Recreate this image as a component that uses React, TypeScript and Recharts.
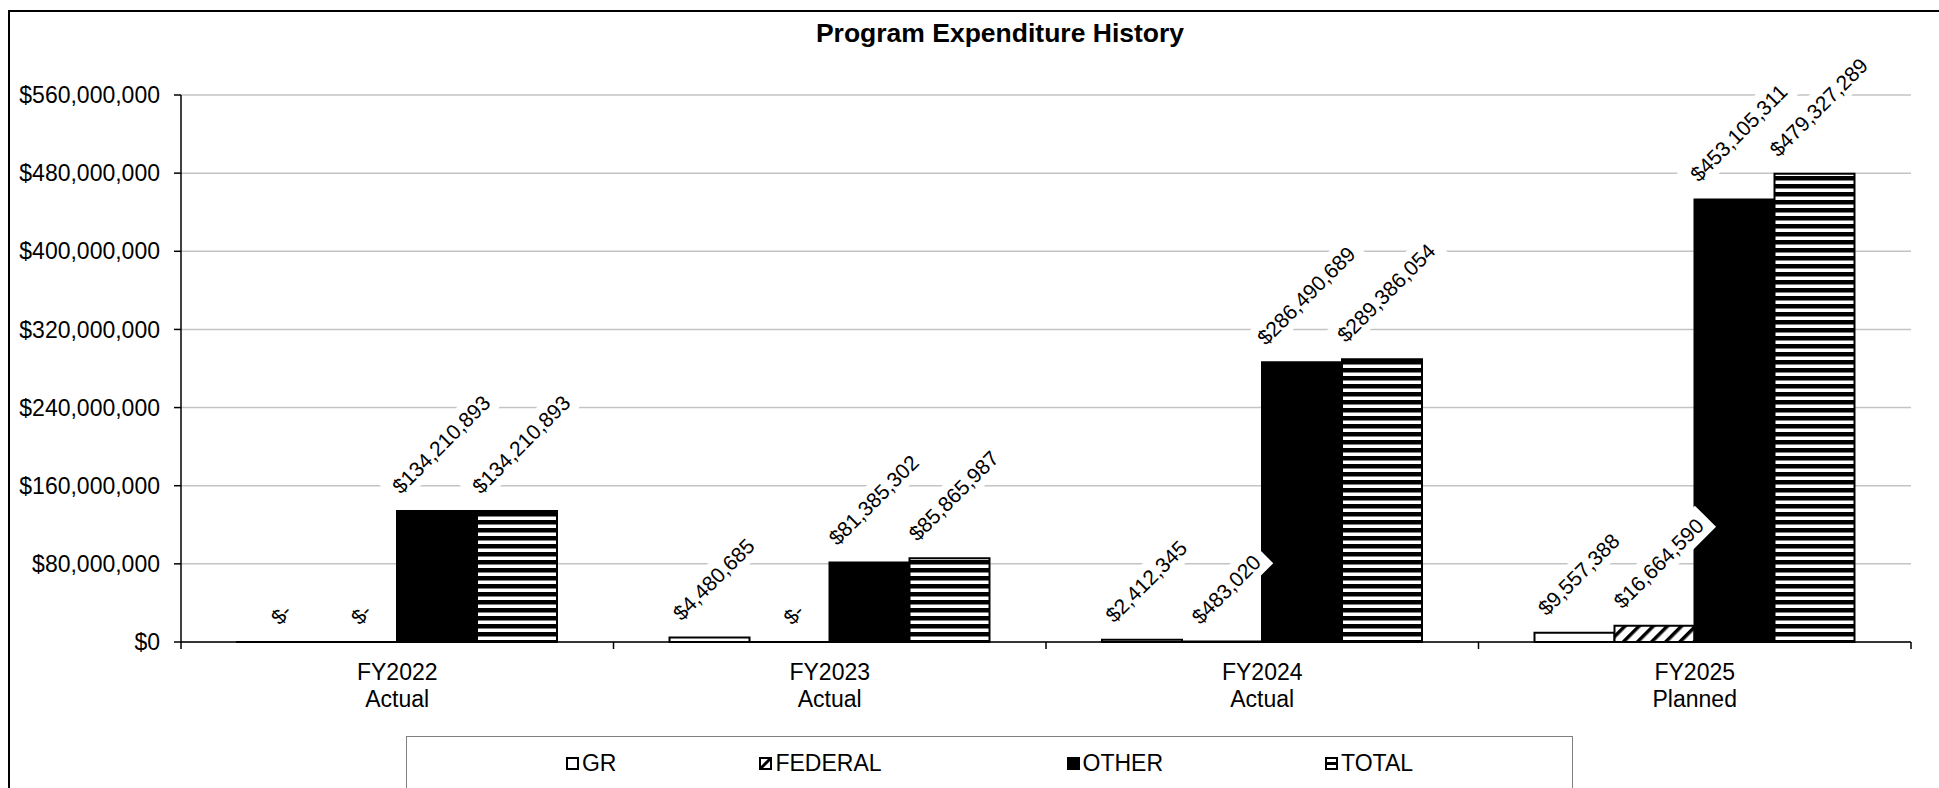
import React from "react";
import { BarChart, Bar, XAxis, YAxis, CartesianGrid, Legend, LabelList } from "recharts";

const FONT = '"Liberation Sans", Arial, Helvetica, sans-serif';

// values
const fiscalYears = ["FY2022", "FY2023", "FY2024", "FY2025"];
const phases = ["Actual", "Actual", "Actual", "Planned"];
const seriesNames = ["GR", "FEDERAL", "OTHER", "TOTAL"];
const grValues = [0, 4480685, 2412345, 9557388];
const federalValues = [0, 0, 483020, 16664590];
const otherValues = [134210893, 81385302, 286490689, 453105311];
const totalValues = [134210893, 85865987, 289386054, 479327289];
const yTicks = [0, 80000000, 160000000, 240000000, 320000000, 400000000, 480000000, 560000000];

const data = fiscalYears.map((fy, i) => ({
  fy,
  GR: grValues[i],
  FEDERAL: federalValues[i],
  OTHER: otherValues[i],
  TOTAL: totalValues[i],
}));

const W = 1939;
const H = 788;
const MARGIN = { top: 95, right: 28, bottom: 66, left: 0 };
const Y_AXIS_W = 181;
const X_AXIS_H = 80;
const BAND = (W - MARGIN.left - MARGIN.right - Y_AXIS_W) / fiscalYears.length;
const LEGEND_GAPS = [0, 143, 185, 162];

const money = (v: number) => (v === 0 ? "$-" : "$" + v.toLocaleString("en-US"));

// rough Arial advance widths, good enough to size the white label boxes
const CHAR_W: Record<string, number> = { ",": 0.278, "-": 0.333 };
const textWidth = (s: string, size: number) =>
  s.split("").reduce((acc, c) => acc + (CHAR_W[c] ?? 0.556) * size, 0);

const LABEL_SIZE = 21;
const AXIS_SIZE = 23;

const ValueLabel = (props: any) => {
  const box = props.viewBox ?? props;
  const { x, y, width } = box;
  const text = money(Number(props.value));
  const w = textWidth(text, LABEL_SIZE) + 16;
  const h = 30;
  const rise = (Math.SQRT1_2 * (w + h)) / 2;
  const cx = x + width / 2 + 4;
  const cy = y - 5 - rise;
  return (
    <g transform={`translate(${cx},${cy}) rotate(-45)`}>
      <rect x={-w / 2} y={-h / 2} width={w} height={h} fill="#fff" />
      <text x={0} y={0} dy="0.36em" textAnchor="middle" fontSize={LABEL_SIZE} fontFamily={FONT} fill="#000">
        {text}
      </text>
    </g>
  );
};

const CategoryTick = (props: any) => {
  const { x, y, payload, index } = props;
  const half = BAND / 2;
  return (
    <g>
      <line x1={x - half} x2={x - half} y1={y} y2={y + 7} stroke="#000" strokeWidth={1.5} />
      {index === fiscalYears.length - 1 && (
        <line x1={x + half} x2={x + half} y1={y} y2={y + 7} stroke="#000" strokeWidth={1.5} />
      )}
      <text x={x} y={y + 38} textAnchor="middle" fontSize={AXIS_SIZE} fontFamily={FONT} fill="#000">
        {payload.value}
      </text>
      <text x={x} y={y + 65} textAnchor="middle" fontSize={AXIS_SIZE} fontFamily={FONT} fill="#000">
        {phases[index]}
      </text>
    </g>
  );
};

const Swatch = ({ kind }: { kind: string }) => (
  <svg width={13} height={13} style={{ display: "block" }}>
    <rect x={1} y={1} width={11} height={11} fill={kind === "OTHER" ? "#000" : "#fff"} stroke="#000" strokeWidth={2} />
    {kind === "FEDERAL" && <line x1={2} y1={11} x2={11} y2={2} stroke="#000" strokeWidth={3} />}
    {kind === "TOTAL" && <rect x={2} y={5} width={9} height={3} fill="#000" />}
  </svg>
);

const LegendContent = (props: any) => {
  const items = [...(props.payload ?? [])].sort(
    (a: any, b: any) => seriesNames.indexOf(a.value) - seriesNames.indexOf(b.value)
  );
  return (
    <div
      style={{
        display: "flex",
        justifyContent: "center",
        paddingTop: 14,
        fontFamily: FONT,
        fontSize: AXIS_SIZE,
        lineHeight: "24px",
        color: "#000",
      }}
    >
      {items.map((item: any, i: number) => (
        <div key={item.value} style={{ display: "flex", alignItems: "center", marginLeft: LEGEND_GAPS[i] }}>
          <Swatch kind={item.value} />
          <span style={{ marginLeft: 3 }}>{item.value}</span>
        </div>
      ))}
    </div>
  );
};

// zero bars get a hair of height so their "$-" label is still placed
const keepZero = (v: number) => (v === 0 ? 0.01 : 0);

export default function App() {
  return (
    <div
      style={{
        position: "absolute",
        left: 0,
        top: 0,
        width: W,
        height: H,
        overflow: "hidden",
        background: "#fff",
        fontFamily: FONT,
      }}
    >
      <div
        style={{
          position: "absolute",
          left: 8,
          top: 10,
          width: 2100,
          height: 900,
          border: "2px solid #000",
        }}
      />
      <div
        style={{
          position: "absolute",
          left: 0,
          top: 18,
          width: 2000,
          textAlign: "center",
          fontSize: 26.5,
          fontWeight: "bold",
          lineHeight: "30px",
          color: "#000",
        }}
      >
        Program Expenditure History
      </div>
      <div style={{ position: "absolute", left: 0, top: 0 }}>
        <BarChart
          width={W}
          height={H}
          data={data}
          margin={MARGIN}
          barCategoryGap={56}
          barGap={0}
          style={{ fontFamily: FONT }}
        >
          <defs>
            <pattern id="fedHatch" width={10} height={10} patternUnits="userSpaceOnUse" patternTransform="rotate(45)">
              <rect width={10} height={10} fill="#fff" />
              <rect width={3.5} height={10} fill="#000" />
            </pattern>
            <pattern id="totalStripes" width={8} height={8} patternUnits="userSpaceOnUse">
              <rect width={8} height={8} fill="#fff" />
              <rect width={8} height={4.5} fill="#000" />
            </pattern>
          </defs>
          <CartesianGrid vertical={false} stroke="#c4c4c4" strokeWidth={1.5} />
          <XAxis
            dataKey="fy"
            height={X_AXIS_H}
            interval={0}
            tickSize={0}
            tickMargin={0}
            tickLine={false}
            axisLine={{ stroke: "#000", strokeWidth: 1.5 }}
            tick={<CategoryTick />}
          />
          <YAxis
            width={Y_AXIS_W}
            domain={[0, 560000000]}
            ticks={yTicks}
            interval={0}
            tickSize={7}
            tickMargin={14}
            tickFormatter={(v: number) => "$" + v.toLocaleString("en-US")}
            tick={{ fontSize: AXIS_SIZE, fill: "#000", fontFamily: FONT }}
            axisLine={{ stroke: "#000", strokeWidth: 1.5 }}
            tickLine={{ stroke: "#000", strokeWidth: 1.5 }}
          />
          <Legend
            layout="horizontal"
            verticalAlign="middle"
            align="center"
            content={<LegendContent />}
            wrapperStyle={{
              top: 736,
              left: 406,
              width: 1167,
              height: 80,
              border: "1px solid #808080",
              boxSizing: "border-box",
              background: "#fff",
            }}
          />
          <Bar dataKey="GR" name="GR" fill="#fff" stroke="#000" strokeWidth={2} minPointSize={keepZero} isAnimationActive={false}>
            <LabelList dataKey="GR" content={<ValueLabel />} />
          </Bar>
          <Bar dataKey="FEDERAL" name="FEDERAL" fill="url(#fedHatch)" stroke="#000" strokeWidth={2} minPointSize={keepZero} isAnimationActive={false}>
            <LabelList dataKey="FEDERAL" content={<ValueLabel />} />
          </Bar>
          <Bar dataKey="OTHER" name="OTHER" fill="#000" stroke="#000" strokeWidth={2} isAnimationActive={false}>
            <LabelList dataKey="OTHER" content={<ValueLabel />} />
          </Bar>
          <Bar dataKey="TOTAL" name="TOTAL" fill="url(#totalStripes)" stroke="#000" strokeWidth={2} isAnimationActive={false}>
            <LabelList dataKey="TOTAL" content={<ValueLabel />} />
          </Bar>
        </BarChart>
      </div>
    </div>
  );
}
